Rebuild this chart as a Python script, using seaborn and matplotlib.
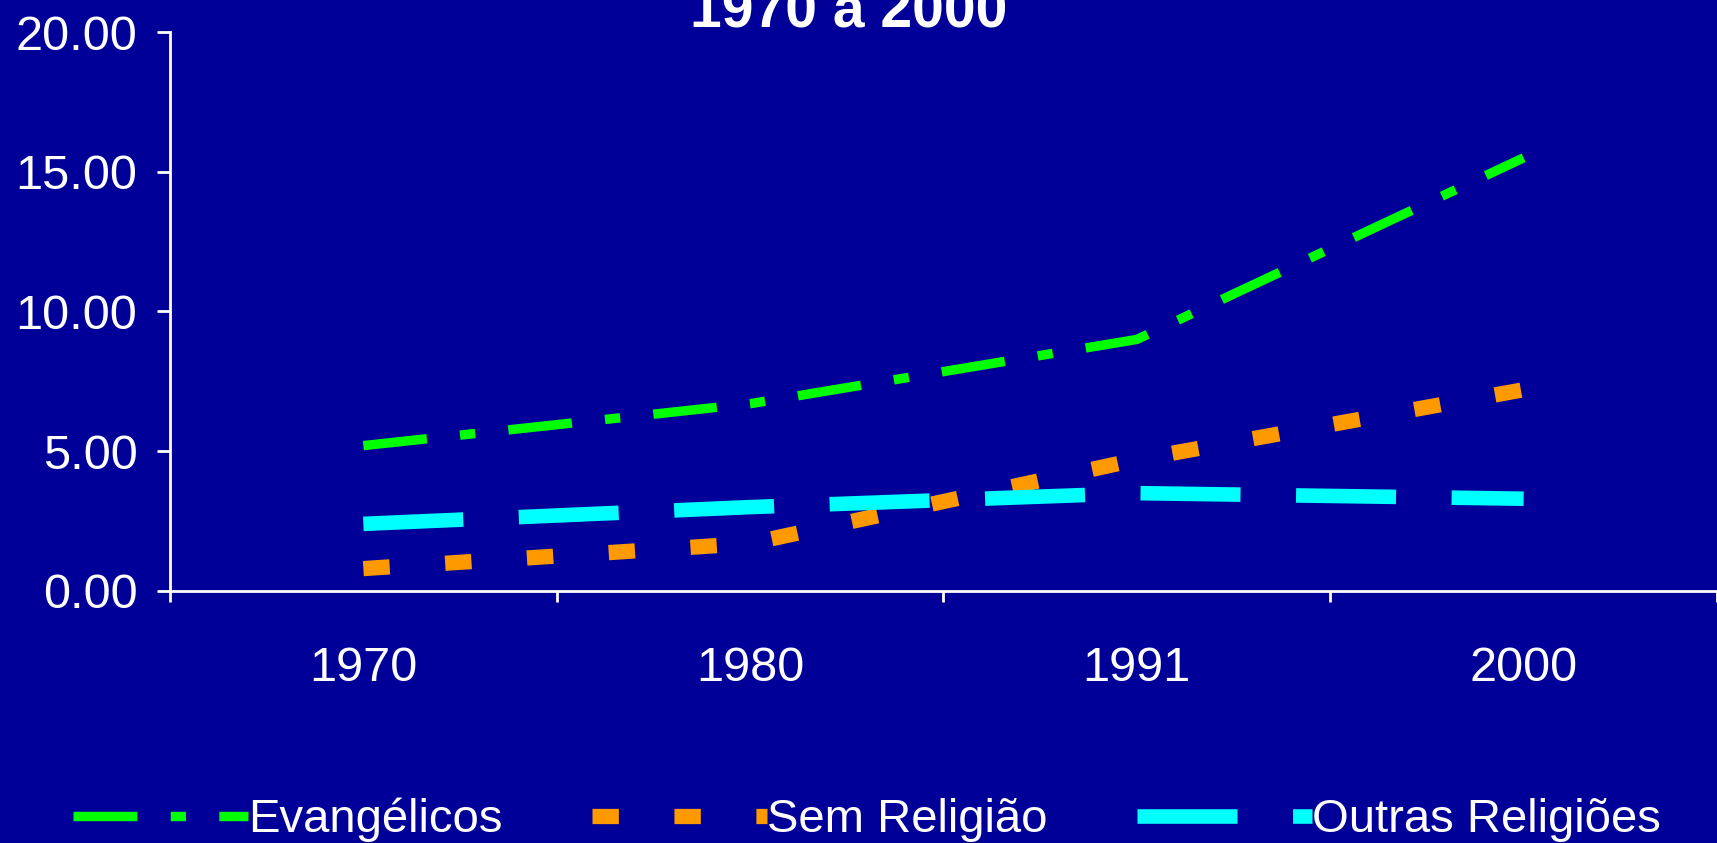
import pandas as pd
import matplotlib
matplotlib.use("Agg")
import matplotlib.pyplot as plt
import seaborn as sns

# Data
years = ["1970", "1980", "1991", "2000"]
evangelicos = [5.2, 6.7, 9.0, 15.5]
sem_religiao = [0.8, 1.7, 4.7, 7.2]
outras_religioes = [2.4, 3.0, 3.5, 3.3]
series_names = ["Evangélicos", "Sem Religião", "Outras Religiões"]
y_ticks = [0, 5, 10, 15, 20]

bg = "#000099"
colors = {"Evangélicos": "#00FF00", "Sem Religião": "#FF9900", "Outras Religiões": "#00FFFF"}
dash_styles = {"Evangélicos": (46, 24, 11, 24), "Sem Religião": (19, 40), "Outras Religiões": (72, 40)}
widths = {"Evangélicos": 6.8, "Sem Religião": 11, "Outras Religiões": 10.5}

sns.set_style("white")
plt.rcParams["font.family"] = ["Liberation Sans", "DejaVu Sans"]
plt.rcParams["lines.scale_dashes"] = False

df = pd.DataFrame({
    "Ano": years * 3,
    "Valor": evangelicos + sem_religiao + outras_religioes,
    "Serie": [s for s in series_names for _ in years],
})

fig = plt.figure(figsize=(17.17, 8.43), dpi=100, facecolor=bg)
ax = fig.add_axes([0.099, 0.299, 0.901, 0.663])
ax.set_facecolor(bg)

sns.lineplot(data=df, x="Ano", y="Valor", hue="Serie", style="Serie",
             palette=colors, dashes=dash_styles, hue_order=series_names,
             style_order=series_names, legend=False, ax=ax, sort=False)

for line, name in zip(ax.lines, series_names):
    line.set_linewidth(widths[name])
    line.set_dashes(dash_styles[name])
    line.set_dash_capstyle("butt")

ax.set_xlim(-0.5, 3.5)
ax.set_ylim(0, 20)
ax.set_xlabel("")
ax.set_ylabel("")

# y axis
ax.set_yticks(y_ticks)
ax.set_yticklabels([f"{v:.2f}" for v in y_ticks])
ax.tick_params(axis="y", left=True, colors="white", labelsize=35, length=9.5, width=2,
               pad=14, direction="out")

# x axis: labels at centers, tick marks between categories
ax.set_xticks(range(len(years)))
ax.set_xticklabels(years)
ax.set_xticks([-0.5, 0.5, 1.5, 2.5, 3.5], minor=True)
ax.tick_params(axis="x", which="major", bottom=True, colors="white", labelsize=35,
               length=0, pad=40)
ax.tick_params(axis="x", which="minor", bottom=True, colors="white", length=8, width=2,
               direction="out")

for side in ["top", "right"]:
    ax.spines[side].set_visible(False)
for side in ["left", "bottom"]:
    ax.spines[side].set_color("white")
    ax.spines[side].set_linewidth(2)
ax.spines["bottom"].set_zorder(5)

fig.text(0.494, 1 - 27 / 843, "1970 a 2000", ha="center", va="baseline",
         fontsize=41, fontweight="bold", color="white")

leg = fig.legend(ax.lines, series_names, loc="center", bbox_to_anchor=(0.505, 0.027),
                 ncol=3, frameon=False, fontsize=34, handlelength=3.7,
                 handletextpad=0.0, columnspacing=1.9, labelcolor="white")

fig.savefig("out.png", dpi=100, facecolor=bg)
